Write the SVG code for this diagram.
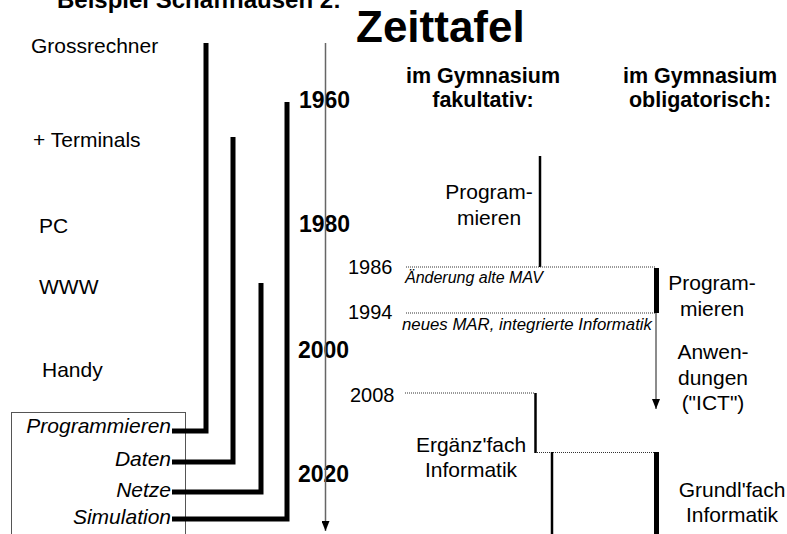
<svg xmlns="http://www.w3.org/2000/svg" width="787" height="534" viewBox="0 0 787 534">
<style>
text{font-family:"Liberation Sans",Arial,sans-serif;fill:#000}
.b{font-weight:bold}
.lbl{font-size:21px}
.it{font-style:italic}
.yr{font-size:23px;font-weight:bold}
.sy{font-size:20px}
.thick{stroke:#000;stroke-width:5;fill:none}
.mid{stroke:#000;stroke-width:2.5;fill:none}
.thin{stroke:#666;stroke-width:1.5;fill:none}
.dot{stroke:#333;stroke-width:1;stroke-dasharray:1 1;fill:none}
.c{text-anchor:middle}
</style>
<defs>
<marker id="ah" viewBox="0 0 10 8" refX="10" refY="4" markerWidth="10" markerHeight="8" markerUnits="userSpaceOnUse" orient="auto">
<path d="M0,0 L10,4 L0,8 Z" fill="#000"/>
</marker>
</defs>
<text x="57" y="8" class="b" font-size="24">Beispiel Schaffhausen 2:</text>
<text x="356" y="42" class="b" font-size="44">Zeittafel</text>

<g id="tech-labels">
<text x="31" y="53" class="lbl">Grossrechner</text>
<text x="33" y="147" class="lbl">+ Terminals</text>
<text x="39" y="233" class="lbl">PC</text>
<text x="39" y="294" class="lbl">WWW</text>
<text x="42" y="377" class="lbl">Handy</text>
</g>

<g id="topic-box">
<rect x="11.5" y="412.5" width="174" height="130" fill="none" stroke="#555" stroke-width="1"/>
<text x="171" y="433" class="lbl it" text-anchor="end">Programmieren</text>
<text x="171" y="466" class="lbl it" text-anchor="end">Daten</text>
<text x="171" y="497" class="lbl it" text-anchor="end">Netze</text>
<text x="171" y="524" class="lbl it" text-anchor="end">Simulation</text>
</g>

<g id="years">
<text x="299" y="108" class="yr">1960</text>
<text x="299" y="232" class="yr">1980</text>
<text x="298" y="358" class="yr">2000</text>
<text x="298" y="482" class="yr">2020</text>
<text x="348" y="274" class="sy">1986</text>
<text x="348" y="319" class="sy">1994</text>
<text x="350" y="402" class="sy">2008</text>
</g>

<g id="headings">
<text x="483" y="83" class="b c" font-size="21.5">im Gymnasium</text>
<text x="483" y="107" class="b c" font-size="21.5">fakultativ:</text>
<text x="700" y="83" class="b c" font-size="21.5">im Gymnasium</text>
<text x="700" y="107" class="b c" font-size="21.5">obligatorisch:</text>
</g>

<g id="labels">
<text x="489" y="199" class="lbl c">Program-</text>
<text x="489" y="225" class="lbl c">mieren</text>
<text x="405" y="283" class="it" font-size="16">Änderung alte MAV</text>
<text x="402" y="330" class="it" font-size="16.8">neues MAR, integrierte Informatik</text>
<text x="712" y="290" class="lbl c">Program-</text>
<text x="712" y="316" class="lbl c">mieren</text>
<text x="713" y="359" class="lbl c">Anwen-</text>
<text x="713" y="385" class="lbl c">dungen</text>
<text x="713" y="410" class="lbl c">("ICT")</text>
<text x="471" y="452" class="lbl c">Ergänz'fach</text>
<text x="471" y="477" class="lbl c">Informatik</text>
<text x="732" y="497" class="lbl c">Grundl'fach</text>
<text x="732" y="522" class="lbl c">Informatik</text>
</g>

<g id="connectors">
<line x1="325.5" y1="43" x2="325.5" y2="531" class="thin" marker-end="url(#ah)"/>
<polyline points="172,431 206,431 206,43" class="thick"/>
<polyline points="172,462 233,462 233,137" class="thick"/>
<polyline points="172,492 261,492 261,283" class="thick"/>
<polyline points="172,519 287,519 287,102" class="thick"/>
<line x1="540" y1="156" x2="540" y2="267" class="mid"/>
<line x1="406" y1="267" x2="655" y2="267" class="dot"/>
<line x1="406" y1="313" x2="655" y2="313" class="dot"/>
<line x1="656.5" y1="268" x2="656.5" y2="313" class="thick"/>
<line x1="656" y1="313" x2="656" y2="409" class="thin" marker-end="url(#ah)"/>
<line x1="405" y1="393" x2="535" y2="393" class="dot"/>
<line x1="535.5" y1="393" x2="535.5" y2="453" class="mid"/>
<line x1="537" y1="452.5" x2="655" y2="452.5" class="dot"/>
<line x1="552" y1="452" x2="552" y2="534" class="mid"/>
<line x1="656.5" y1="452" x2="656.5" y2="534" class="thick"/>
</g>
</svg>
